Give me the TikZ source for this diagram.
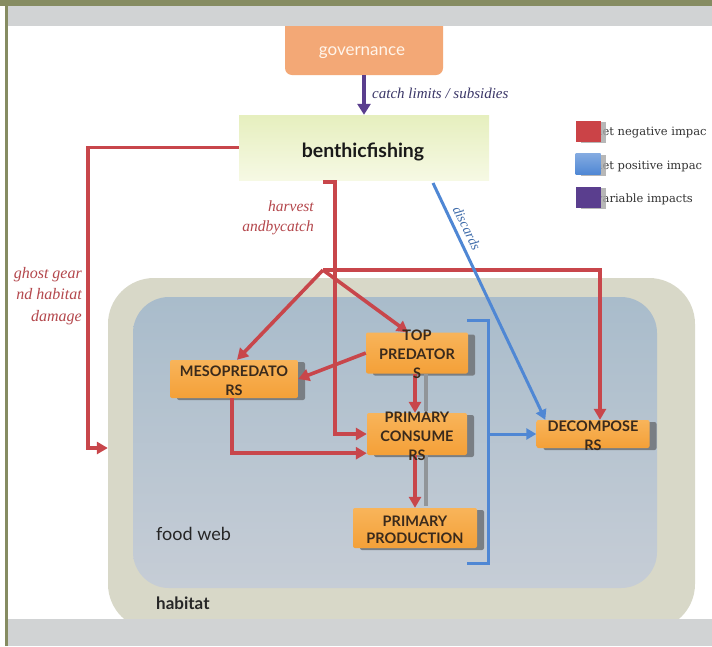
\documentclass[tikz,border=0pt]{standalone}
\usepackage{fontspec}
\setmainfont{Liberation Serif}
\newfontfamily\gill{Lato}
\newfontfamily\legserif{DejaVu Serif}
\usetikzlibrary{arrows.meta,shadows,calc}

\definecolor{olive}{HTML}{868C62}
\definecolor{stripgray}{HTML}{D1D3D4}
\definecolor{negred}{HTML}{C8464B}
\definecolor{labred}{HTML}{B4474C}
\definecolor{posblue}{HTML}{4F87D4}
\definecolor{varpurple}{HTML}{5A3E8E}
\definecolor{labnavy}{HTML}{3B3768}
\definecolor{govorange}{HTML}{F3A876}
\definecolor{boxtop}{HTML}{F8B45A}
\definecolor{boxbot}{HTML}{F4A038}
\definecolor{boxtext}{HTML}{3A2A1C}
\definecolor{habfill}{HTML}{D8D8C8}
\definecolor{webtop}{HTML}{A9BCCB}
\definecolor{webbot}{HTML}{C6CDD6}
\definecolor{fishtop}{HTML}{E6EFBE}
\definecolor{fishbot}{HTML}{F6F9E4}
\definecolor{shadowgray}{HTML}{767B80}

\tikzset{
  conn/.style={line width=3.6pt, line join=miter},
  negline/.style={conn, draw=negred},
  negarrow/.style={negline, -{Triangle[length=11pt,width=12pt]}},
  posline/.style={conn, line width=3pt, draw=posblue},
  posarrow/.style={posline, -{Triangle[length=10pt,width=11pt]}},
  vararrow/.style={conn, line width=4.5pt, draw=varpurple, -{Triangle[length=11pt,width=13pt]}},
  shadowline/.style={line width=3.6pt, draw=shadowgray!80},
  webbox/.style={rectangle, inner sep=0pt, rounded corners=2pt,
    top color=boxtop, bottom color=boxbot,
    drop shadow={shadow xshift=7pt, shadow yshift=-2pt, fill=shadowgray, opacity=0.95}},
  boxlbl/.style={font=\gill\bfseries\fontsize{14.5}{19}\selectfont, text=boxtext,
    align=center, inner sep=0pt},
  italred/.style={font=\itshape\fontsize{15.5}{20}\selectfont, text=labred, inner sep=0pt},
  legsq/.style={rectangle, minimum width=25pt, minimum height=21pt, inner sep=0pt,
    drop shadow={shadow xshift=5pt, shadow yshift=-1pt, fill=gray!70, opacity=0.8}},
  legtxt/.style={font=\legserif\fontsize{11.5}{13}\selectfont, text=black!80, anchor=west, inner sep=0pt}
}

\begin{document}
\begin{tikzpicture}[x=1pt,y=-1pt]
\useasboundingbox (0,0) rectangle (712,646);
\fill[white] (0,0) rectangle (712,646);

% governance box (its top edge sits under the grey strip)
\node[rectangle, rounded corners=7pt, fill=govorange, minimum width=158pt,
  minimum height=60pt, inner sep=0pt] (gov) at (364,45) {};
\node[font=\gill\fontsize{17}{19}\selectfont, text=white!92!orange, inner sep=0pt]
  (govlbl) at (362,53) {governance};

% page frame
\fill[olive] (0,0) rectangle (712,6);
\fill[olive] (4.5,0) rectangle (7.5,646);
\fill[stripgray] (7.5,6) rectangle (712,26);

% habitat and food web panels
\node[rectangle, rounded corners=46pt, inner sep=0pt, fill=habfill,
  minimum width=587pt, minimum height=352pt] (hab) at (401.5,454) {};
\node[rectangle, rounded corners=36pt, inner sep=0pt, top color=webtop, bottom color=webbot,
  minimum width=524pt, minimum height=291pt] (fw) at (395,442.5) {};
\fill[stripgray] (7.5,619) rectangle (712,646);

\node[font=\gill\fontsize{18}{20}\selectfont, text=black!85, anchor=west, inner sep=0pt]
  (fwlbl) at (156,534) {food web};
\node[font=\gill\bfseries\fontsize{17}{19}\selectfont, text=black!85, anchor=west, inner sep=0pt]
  (hablbl) at (156,603) {habitat};

% fishing box
\node[rectangle, inner sep=0pt, top color=fishtop, bottom color=fishbot,
  minimum width=250pt, minimum height=65pt] (fish) at (364,147.5) {};
\node[font=\gill\bfseries\fontsize{19.5}{22}\selectfont, text=black!90, inner sep=0pt]
  (fishlbl) at (363,152) {benthicfishing};

% food web compartments
\node[webbox, minimum width=102pt, minimum height=41pt] (top) at (417,353) {};
\node[webbox, minimum width=100pt, minimum height=42pt] (cons) at (417,434) {};
\node[webbox, minimum width=124pt, minimum height=40pt] (prod) at (415,528) {};
\node[webbox, minimum width=113pt, minimum height=28pt] (decomp) at (593,434) {};
\node[webbox, minimum width=128pt, minimum height=38pt] (meso) at (234,379) {};

% legend
\node[legtxt] (lt1) at (595,133) {net negative impac};
\node[legtxt] (lt2) at (595,166) {net positive impac};
\node[legtxt] (lt3) at (596,199) {variable impacts};
\node[legsq, fill=negred!95!red] (lg1) at (588,131) {};
\node[legsq, top color=posblue!70!white, bottom color=posblue] (lg2) at (588,164) {};
\node[legsq, fill=varpurple] (lg3) at (588,197) {};

% governance to fishing
\draw[vararrow] (gov.south) -- (fish.north);
\node[font=\itshape\fontsize{15}{17}\selectfont, text=labnavy, anchor=west, inner sep=0pt]
  (catchlbl) at (372,93) {catch limits / subsidies};

% ghost gear and habitat damage
\coordinate (ggturn) at (88,448);
\draw[negarrow] (fish.west) -| (ggturn) -- (hab.west |- ggturn);
\node[italred, align=right, anchor=east, font=\itshape\fontsize{16}{21.5}\selectfont]
  (gglbl) at (82,296) {ghost gear\\nd habitat\\damage};

% harvest and bycatch
\coordinate (hvstart) at (323,182);
\coordinate (hvturn) at (335,182);
\draw[negarrow] (hvstart) -- (hvturn) |- (cons.west);
\node[italred, align=right, anchor=east] (hvlbl) at (314,218) {harvest\\andbycatch};

% fan-out of harvest impacts
\coordinate (fan) at (323,270);
\draw[negarrow] (fan) -| ($(decomp.north)+(7,0)$);
\draw[negarrow] (fan) -- ($(meso.north)+(3,0)$);
\draw[negarrow] (fan) -- ($(top.north)+(-9,0)$);

% trophic links
\draw[negarrow] (top.west) -- (meso.east);
\draw[shadowline] ($(top.south)+(9,0)$) -- ($(cons.north)+(9,-2)$);
\draw[negarrow] ($(top.south)+(-2,0)$) -- ($(cons.north)+(-2,0)$);
\draw[shadowline] ($(cons.south)+(9,0)$) -- ($(prod.north)+(11,-2)$);
\draw[negarrow] ($(cons.south)+(-2,0)$) -- ($(prod.north)+(0,0)$);
\draw[negarrow] ($(meso.south)+(-2,0)$) |- ($(cons.south west)+(0,-2)$);

% discards and decomposition
\coordinate (dsstart) at (433,183);
\draw[posarrow] (dsstart) -- ($(decomp.north west)+(9,0)$);
\node[font=\itshape\fontsize{14}{16}\selectfont, text=posblue!80!black, rotate=-64, inner sep=0pt]
  (dslbl) at (467,228) {discards};

\coordinate (brtop) at (467,320);
\coordinate (brbot) at (467,563);
\coordinate (brmid) at (488,434);
\draw[posline] (brtop) -- ++(21,0) |- (brbot);
\draw[posarrow] (brmid) -- (decomp.west);

% compartment labels
\node[boxlbl] (toplbl) at ($(top.center)+(0,1)$) {TOP\\PREDATOR\\S};
\node[boxlbl] (conslbl) at ($(cons.center)+(0,2)$) {PRIMARY\\CONSUME\\RS};
\node[boxlbl, font=\gill\bfseries\fontsize{14.5}{17}\selectfont] (prodlbl) at ($(prod.center)+(0,2)$) {PRIMARY\\PRODUCTION};
\node[boxlbl] (decomplbl) at ($(decomp.center)+(0,2)$) {DECOMPOSE\\RS};
\node[boxlbl] (mesolbl) at ($(meso.center)+(0,2)$) {MESOPREDATO\\RS};
\end{tikzpicture}
\end{document}
